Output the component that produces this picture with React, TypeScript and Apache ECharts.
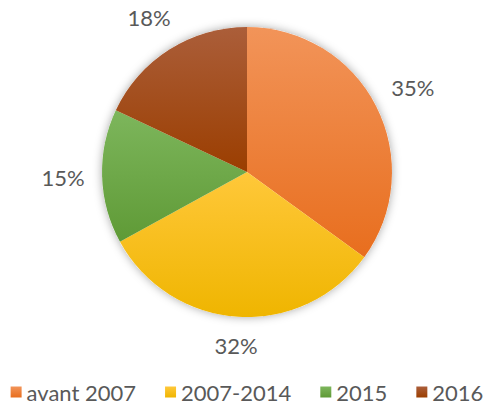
import React, { useEffect, useRef } from "react";
import * as echarts from "echarts";

const categories = ["avant 2007", "2007-2014", "2015", "2016"];
const values = [35, 32, 15, 18];
const lightColors = ["#F29459", "#FFC83A", "#7DB65C", "#AB5E3A"];
const darkColors = ["#E86E1E", "#EFB500", "#5F9A36", "#9B3E00"];

const CX = 247;
const CY = 172;
const R = 145;

export default function App() {
  const ref = useRef<HTMLDivElement>(null);
  useEffect(() => {
    if (!ref.current) return;
    const chart = echarts.init(ref.current, undefined, { renderer: "svg" });
    const total = values.reduce((a, b) => a + b, 0);
    const font = "Lato, 'Open Sans', sans-serif";
    chart.setOption({
      animation: false,
      backgroundColor: "#ffffff",
      legend: {
        data: categories,
        top: 381,
        left: "center",
        padding: 0,
        icon: "rect",
        itemWidth: 11,
        itemHeight: 11,
        itemGap: 29,
        textStyle: { fontSize: 22, color: "#595959", fontFamily: font },
      },
      series: [
        {
          type: "pie",
          silent: true,
          center: [CX, CY],
          radius: R,
          z: 1,
          label: { show: false },
          labelLine: { show: false },
          itemStyle: {
            color: "#ffffff",
            shadowBlur: 10,
            shadowColor: "rgba(0,0,0,0.35)",
          },
          data: [{ value: 1, name: "" }],
        },
        {
          type: "pie",
          center: [CX, CY],
          radius: R,
          startAngle: 90,
          clockwise: true,
          z: 2,
          labelLine: { show: false },
          label: {
            show: true,
            position: "inside",
            formatter: "{d}%",
            fontSize: 22,
            color: "#595959",
            fontFamily: font,
            overflow: "none",
          },
          labelLayout: (params: any) => {
            const i = params.dataIndex;
            let before = 0;
            for (let k = 0; k < i; k++) before += values[k];
            const mid = ((before + values[i] / 2) / total) * Math.PI * 2;
            const s = Math.sin(mid);
            const c = Math.cos(mid);
            const W = params.labelRect.width;
            const H = params.labelRect.height;
            const d = R + 17 + (W / 2) * Math.abs(s) + (H / 2) * Math.abs(c);
            return {
              x: CX + d * s,
              y: CY - d * c,
              align: "center",
              verticalAlign: "middle",
            };
          },
          data: categories.map((name, i) => ({
            name,
            value: values[i],
            itemStyle: {
              color: new echarts.graphic.LinearGradient(0, 0, 0, 1, [
                { offset: 0, color: lightColors[i] },
                { offset: 1, color: darkColors[i] },
              ]),
            },
          })),
        },
      ],
    });
    return () => chart.dispose();
  }, []);
  return (
    <div
      ref={ref}
      style={{ position: "fixed", left: 0, top: 0, width: 494, height: 405 }}
    />
  );
}
